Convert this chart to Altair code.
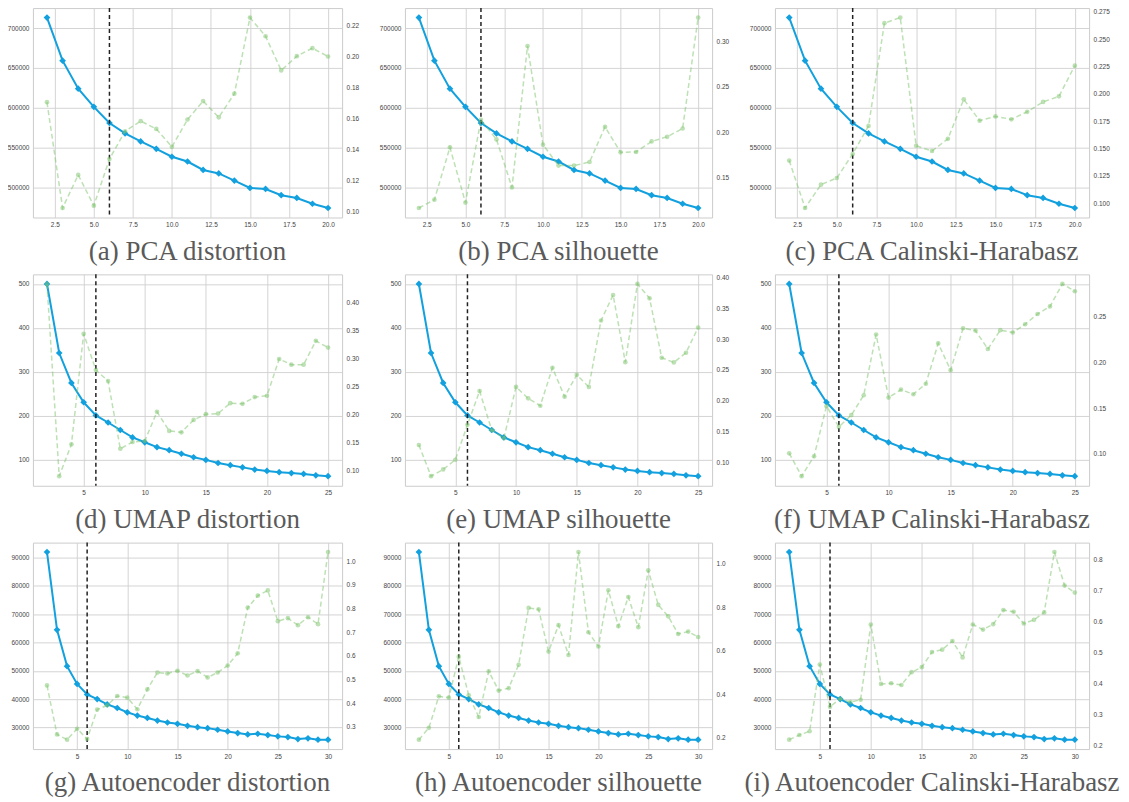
import altair as alt
import pandas as pd

# ---------------- data ----------------
ELBOW_K = 6

K_PCA = list(range(2, 21))
K_UMAP = list(range(2, 26))
K_AE = list(range(2, 31))

# distortion (blue, left axis)
pca_distortion = [713200, 659100, 623900, 601000, 580700, 567600, 557500, 548300, 538300,
                  532300, 521700, 517300, 508300, 499100, 497800, 490000, 486500, 479200, 473900]
umap_distortion = [500, 343, 275, 231, 201, 185, 168, 151, 140, 129, 122, 114, 106, 100,
                   93, 88, 83, 78, 75, 72, 70, 68, 65, 63]
ae_distortion = [91980, 64490, 51670, 45380, 41650, 40020, 38160, 36880, 35360, 34200,
                 33380, 32450, 31750, 31280, 30580, 30120, 29770, 29190, 28600, 28020,
                 27560, 27790, 27320, 26860, 26620, 25920, 26160, 25690, 25690]

# metric (green, right axis)
pca_dist_metric = [0.1705, 0.102, 0.1234, 0.1035, 0.1337, 0.1517, 0.1583, 0.1532, 0.1416,
                   0.1593, 0.1712, 0.1607, 0.176, 0.2253, 0.2132, 0.1911, 0.2003, 0.2055, 0.2001]
pca_sil_metric = [0.1168, 0.1259, 0.1835, 0.1227, 0.2137, 0.1922, 0.1394, 0.2949, 0.1864,
                  0.1634, 0.1634, 0.1674, 0.206, 0.178, 0.1784, 0.19, 0.1951, 0.2042, 0.3262]
pca_ch_metric = [0.1391, 0.0958, 0.1171, 0.1232, 0.1451, 0.1707, 0.2645, 0.2696, 0.1526,
                 0.1478, 0.1589, 0.195, 0.1755, 0.1794, 0.1767, 0.1836, 0.1926, 0.1977, 0.2257]
umap_dist_metric = [0.4323, 0.0892, 0.146, 0.3432, 0.2787, 0.259, 0.1382, 0.1502, 0.152,
                    0.204, 0.1699, 0.1675, 0.1896, 0.1998, 0.201, 0.2195, 0.2183, 0.2303,
                    0.2327, 0.2984, 0.2882, 0.2882, 0.3307, 0.3187]
umap_sil_metric = [0.1278, 0.0771, 0.088, 0.1038, 0.1605, 0.2156, 0.1518, 0.1387, 0.2222,
                   0.2036, 0.1916, 0.2533, 0.2064, 0.2418, 0.2222, 0.3302, 0.3716, 0.2625,
                   0.3896, 0.3662, 0.2696, 0.262, 0.2778, 0.3187]
umap_ch_metric = [0.1004, 0.0754, 0.0971, 0.152, 0.1293, 0.1423, 0.164, 0.2305, 0.1614,
                  0.1701, 0.1651, 0.1766, 0.2207, 0.1914, 0.2373, 0.2348, 0.2146, 0.2352,
                  0.2327, 0.2417, 0.2529, 0.2612, 0.2858, 0.2778]
ae_dist_metric = [0.475, 0.2678, 0.2454, 0.2916, 0.2482, 0.3728, 0.391, 0.4302, 0.4232,
                  0.3742, 0.4582, 0.5296, 0.5254, 0.5366, 0.517, 0.5352, 0.5086, 0.5296,
                  0.559, 0.6108, 0.804, 0.8544, 0.8768, 0.7466, 0.7592, 0.7298, 0.7634,
                  0.734, 1.0392]
ae_sil_metric = [0.1922, 0.2466, 0.3911, 0.3849, 0.5728, 0.3957, 0.2963, 0.506, 0.4175,
                 0.4283, 0.5355, 0.7965, 0.7903, 0.5961, 0.7173, 0.5806, 1.0528, 0.6847,
                 0.6194, 0.8773, 0.7126, 0.8462, 0.708, 0.9689, 0.8105, 0.7577, 0.6769,
                 0.6878, 0.6629]
ae_ch_metric = [0.2184, 0.2336, 0.2455, 0.461, 0.3245, 0.3505, 0.3397, 0.3473, 0.5899,
                0.3982, 0.4004, 0.3949, 0.4361, 0.4523, 0.5011, 0.5087, 0.5368, 0.4837,
                0.5899, 0.5736, 0.591, 0.6365, 0.631, 0.5931, 0.6051, 0.6289, 0.8238,
                0.7155, 0.6928]

titles = ["(a) PCA distortion", "(b) PCA silhouette", "(c) PCA Calinski-Harabasz",
          "(d) UMAP distortion", "(e) UMAP silhouette", "(f) UMAP Calinski-Harabasz",
          "(g) Autoencoder distortion", "(h) Autoencoder silhouette",
          "(i) Autoencoder Calinski-Harabasz"]

# tick values
x_ticks_pca = [2.5, 5.0, 7.5, 10.0, 12.5, 15.0, 17.5, 20.0]
x_ticks_umap = [5, 10, 15, 20, 25]
x_ticks_ae = [5, 10, 15, 20, 25, 30]
l_ticks_pca = [500000, 550000, 600000, 650000, 700000]
l_ticks_umap = [100, 200, 300, 400, 500]
l_ticks_ae = [30000, 40000, 50000, 60000, 70000, 80000, 90000]
r_ticks = [
    [0.10, 0.12, 0.14, 0.16, 0.18, 0.20, 0.22],
    [0.15, 0.20, 0.25, 0.30],
    [0.100, 0.125, 0.150, 0.175, 0.200, 0.225, 0.250, 0.275],
    [0.10, 0.15, 0.20, 0.25, 0.30, 0.35, 0.40],
    [0.10, 0.15, 0.20, 0.25, 0.30, 0.35, 0.40],
    [0.10, 0.15, 0.20, 0.25],
    [0.3, 0.4, 0.5, 0.6, 0.7, 0.8, 0.9, 1.0],
    [0.2, 0.4, 0.6, 0.8, 1.0],
    [0.2, 0.3, 0.4, 0.5, 0.6, 0.7, 0.8],
]
r_formats = [".2f", ".2f", ".3f", ".2f", ".2f", ".2f", ".1f", ".1f", ".1f"]

BLUE = "#12a0de"
GREEN = "#7cc46a"


def padded(vals, frac=0.05):
    lo, hi = min(vals), max(vals)
    p = (hi - lo) * frac
    return [lo - p, hi + p]


def panel(k, blue, green, title, xt, xf, lt, rt, rf, w, h):
    df = pd.DataFrame({"k": k, "score": blue, "metric": green})
    xs = alt.Scale(domain=padded(k), nice=False, zero=False)
    x = alt.X("k:Q", scale=xs,
              axis=alt.Axis(values=xt, format=xf, title=None, grid=True))
    base = alt.Chart(df)
    lscale = alt.Scale(domain=padded(blue), nice=False, zero=False)
    rscale = alt.Scale(domain=padded(green), nice=False, zero=False)
    bl = base.mark_line(color=BLUE, strokeWidth=2).encode(
        x=x, y=alt.Y("score:Q", scale=lscale,
                     axis=alt.Axis(orient="left", values=lt, format="d", title=None)))
    bp = base.mark_point(shape="diamond", filled=True, size=45, color=BLUE, opacity=1).encode(
        x=x, y=alt.Y("score:Q", scale=lscale, axis=None))
    rule = alt.Chart(pd.DataFrame({"k": [ELBOW_K]})).mark_rule(
        color="#222222", strokeDash=[4, 3], strokeWidth=1.5).encode(x=x)
    gl = base.mark_line(color=GREEN, strokeDash=[5, 3], strokeWidth=1.5, opacity=0.5).encode(
        x=x, y=alt.Y("metric:Q", scale=rscale,
                     axis=alt.Axis(orient="right", values=rt, format=rf, title=None)))
    gp = base.mark_circle(color=GREEN, size=22, opacity=0.5).encode(
        x=x, y=alt.Y("metric:Q", scale=rscale, axis=None))
    return alt.layer(bl, bp, rule, gl, gp).resolve_scale(y="independent").properties(
        width=w, height=h,
        title=alt.TitleParams(title, orient="bottom", frame="group", offset=11,
                              anchor="middle"))


ks = [K_PCA] * 3 + [K_UMAP] * 3 + [K_AE] * 3
blues = [pca_distortion] * 3 + [umap_distortion] * 3 + [ae_distortion] * 3
greens = [pca_dist_metric, pca_sil_metric, pca_ch_metric,
          umap_dist_metric, umap_sil_metric, umap_ch_metric,
          ae_dist_metric, ae_sil_metric, ae_ch_metric]
xts = [x_ticks_pca] * 3 + [x_ticks_umap] * 3 + [x_ticks_ae] * 3
xfs = [".1f"] * 3 + ["d"] * 6
lts = [l_ticks_pca] * 3 + [l_ticks_umap] * 3 + [l_ticks_ae] * 3
col_w = [310, 308, 315]
row_h = [210, 212, 207]

panels = [panel(ks[i], blues[i], greens[i], titles[i], xts[i], xfs[i], lts[i],
                r_ticks[i], r_formats[i], col_w[i % 3], row_h[i // 3]) for i in range(9)]

chart = alt.concat(*panels, columns=3, spacing={"row": 57, "column": 63},
                   bounds="flush", align="each").properties(
    padding={"left": -2, "top": -3, "right": 0, "bottom": 0}
).configure_axis(
    labelFont="Liberation Sans", labelFontSize=6.5, labelColor="#444444",
    ticks=False, domain=False, gridColor="#cfcfcf", gridWidth=0.9, labelPadding=4
).configure_view(
    stroke="#cccccc", strokeWidth=1
).configure_title(
    font="Liberation Serif", fontSize=27, color="#5a5a5a", fontWeight="normal"
)

chart.save("out.html", embed_options={"renderer": "svg", "actions": False})
